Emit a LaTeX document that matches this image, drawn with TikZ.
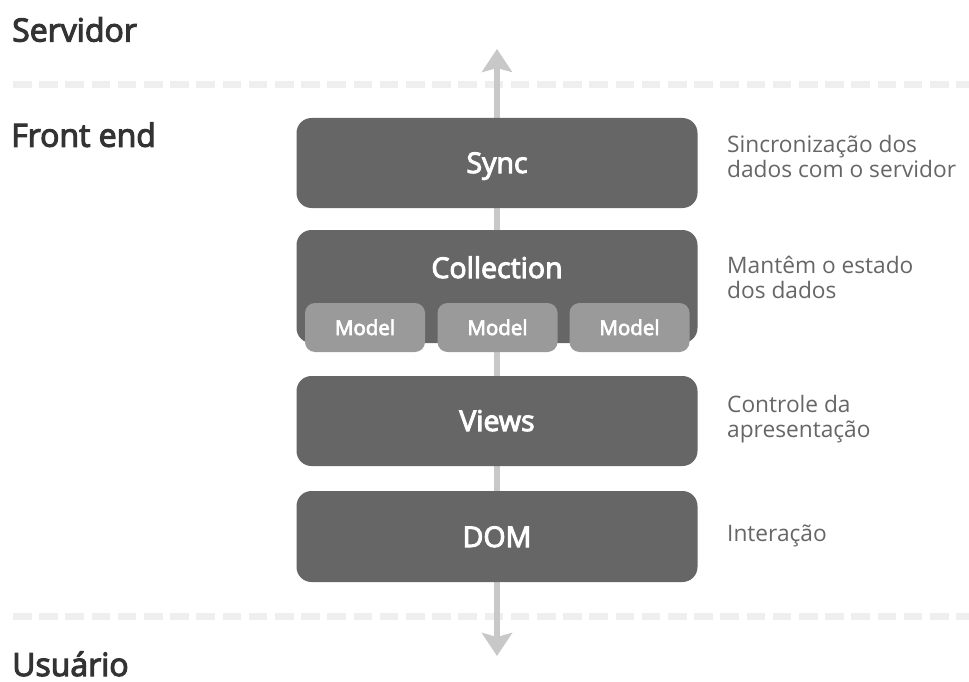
\documentclass[tikz,border=0pt]{standalone}
\usepackage{fontspec}
\setmainfont{Open Sans}
\newfontfamily\semib{Open Sans}[FakeBold=3.5]
\usetikzlibrary{arrows.meta}
\definecolor{boxgray}{HTML}{666666}
\definecolor{modelgray}{HTML}{9A9A9A}
\definecolor{axisgray}{HTML}{C8C8C8}
\definecolor{dashgray}{HTML}{EFEFEF}
\definecolor{labeldark}{HTML}{333333}
\definecolor{notegray}{HTML}{666666}
\tikzset{
  layer/.style={fill=boxgray, rounded corners=15pt, minimum width=401pt,
    minimum height=90pt, inner sep=0pt, outer sep=0pt},
  modelbox/.style={fill=modelgray, rounded corners=10pt, minimum width=120pt,
    minimum height=49pt, inner sep=0pt, outer sep=0pt},
  layertext/.style={text=white, font=\semib\fontsize{28.5}{32}\selectfont,
    anchor=base, inner sep=0pt},
  modeltext/.style={text=white, font=\semib\fontsize{20.5}{24}\selectfont,
    anchor=base, inner sep=0pt},
  zone/.style={text=labeldark, font=\semib\fontsize{32}{36}\selectfont,
    anchor=base west, inner sep=0pt},
  note/.style={text=notegray, font=\fontsize{22.7}{25}\selectfont,
    anchor=base west, inner sep=0pt},
  divider/.style={dashgray, line width=7pt, dash pattern=on 18.5pt off 7.7pt},
  flow/.style={axisgray, line width=5.5pt,
    {Stealth[length=23pt,width=30pt,inset=4pt]}-{Stealth[length=23pt,width=30pt,inset=4pt]}}
}
\newcommand{\twolines}[2]{\begin{tabular}[t]{@{}l@{}}#1\\#2\end{tabular}}
\begin{document}
\begin{tikzpicture}[x=1pt,y=-1pt]
  \useasboundingbox (0,0) rectangle (969,682);

  % zone separators
  \draw[divider] (13,85) -- (975,85);
  \draw[divider] (13,616) -- (975,616);

  % zone titles
  \node[zone] (servidor) at (12,41.5) {Servidor};
  \node[zone] (frontend) at (11,146.7) {Front end};
  \node[zone] (usuario) at (12,676) {Usuário};

  % data flow axis running behind the layers
  \coordinate (up) at (497,49);
  \coordinate (down) at (497,656);
  \draw[flow] (down) -- (up);

  % layers
  \node[layer] (sync) at (497,163) {};
  \node[layer, minimum height=113pt] (coll) at (497,286.5) {};
  \node[layer] (views) at (497,421) {};
  \node[layer, minimum height=91pt] (dom) at (497,536.5) {};

  \node[modelbox] (m1) at (365,327.5) {};
  \node[modelbox] (m2) at (497.5,327.5) {};
  \node[modelbox] (m3) at (629.5,327.5) {};

  \node[layertext] (synct) at (497,173) {Sync};
  \node[layertext] (collt) at (497,278) {Collection};
  \node[layertext] (viewst) at (497,431) {Views};
  \node[layertext] (domt) at (497,547) {DOM};
  \node[modeltext] (m1t) at (365,335) {Model};
  \node[modeltext] (m2t) at (497.5,335) {Model};
  \node[modeltext] (m3t) at (629.5,335) {Model};

  % notes on the right
  \node[note] (n1) at (727,152.7) {\twolines{Sincronização dos}{dados com o servidor}};
  \node[note] (n2) at (727,273.3) {\twolines{Mantêm o estado}{dos dados}};
  \node[note] (n3) at (727,412.3) {\twolines{Controle da}{apresentação}};
  \node[note] (n4) at (727,541.7) {Interação};
\end{tikzpicture}
\end{document}
